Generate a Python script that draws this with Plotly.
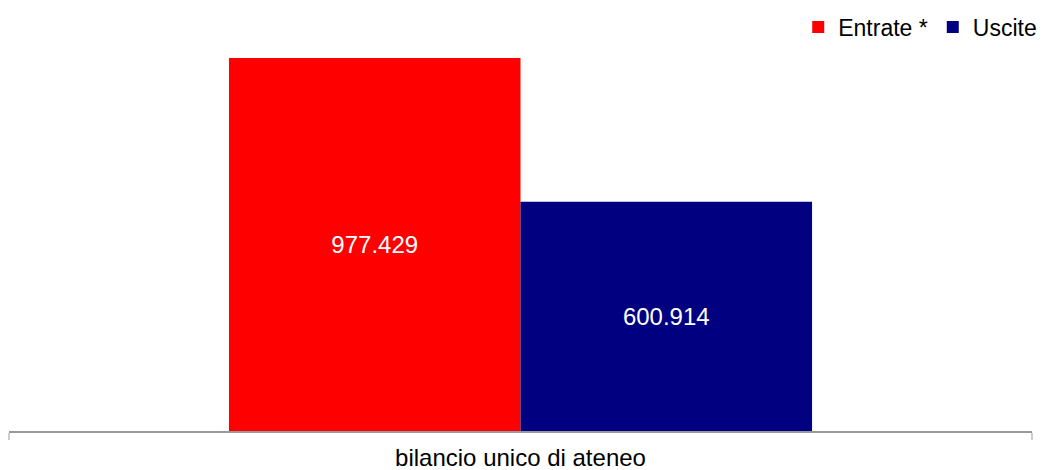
import plotly.graph_objects as go

categories = ["bilancio unico di ateneo"]
series_names = ["Entrate *", "Uscite"]
series_values = [[977.429], [600.914]]
series_labels = [["977.429"], ["600.914"]]
series_colors = ["#ff0000", "#000080"]

FONT = "Liberation Sans, Arial, sans-serif"

# headroom above the tallest bar (the legend sits in it)
Y_MAX = 977.429 * 411 / 373


def main():
    fig = go.Figure()
    for name, vals, labels, color in zip(series_names, series_values, series_labels, series_colors):
        fig.add_trace(go.Bar(
            x=categories,
            y=vals,
            name=name,
            text=labels,
            textposition="inside",
            insidetextanchor="middle",
            textfont=dict(color="white", size=24, family=FONT),
            marker=dict(color=color, line=dict(width=0)),
            hoverinfo="skip",
        ))

    # page has an 8px body margin, so the figure is 8px smaller than the window
    fig.update_layout(
        width=1039,
        height=462,
        barmode="group",
        bargap=0.43,
        bargroupgap=0,
        plot_bgcolor="white",
        paper_bgcolor="white",
        margin=dict(l=1, r=15, t=12, b=39, autoexpand=False),
        font=dict(family=FONT, size=24, color="black"),
        showlegend=True,
        legend=dict(
            orientation="h",
            x=1.01, xanchor="right",
            y=0.983, yanchor="middle",
            font=dict(size=23),
            itemwidth=30,
            entrywidth=0,
            bgcolor="rgba(0,0,0,0)",
        ),
        xaxis=dict(
            type="category",
            range=[-0.5, 0.5],
            automargin=False,
            showline=True,
            linecolor="#999999",
            linewidth=2,
            ticks="outside",
            tickson="boundaries",
            ticklen=7,
            tickcolor="#cccccc",
            tickwidth=2,
            tickfont=dict(size=24),
            ticklabelstandoff=4,
            showgrid=False,
            zeroline=False,
        ),
        yaxis=dict(
            range=[0, Y_MAX],
            visible=False,
            showgrid=False,
            zeroline=False,
        ),
    )
    fig.write_html("out.html")


if __name__ == "__main__":
    main()
